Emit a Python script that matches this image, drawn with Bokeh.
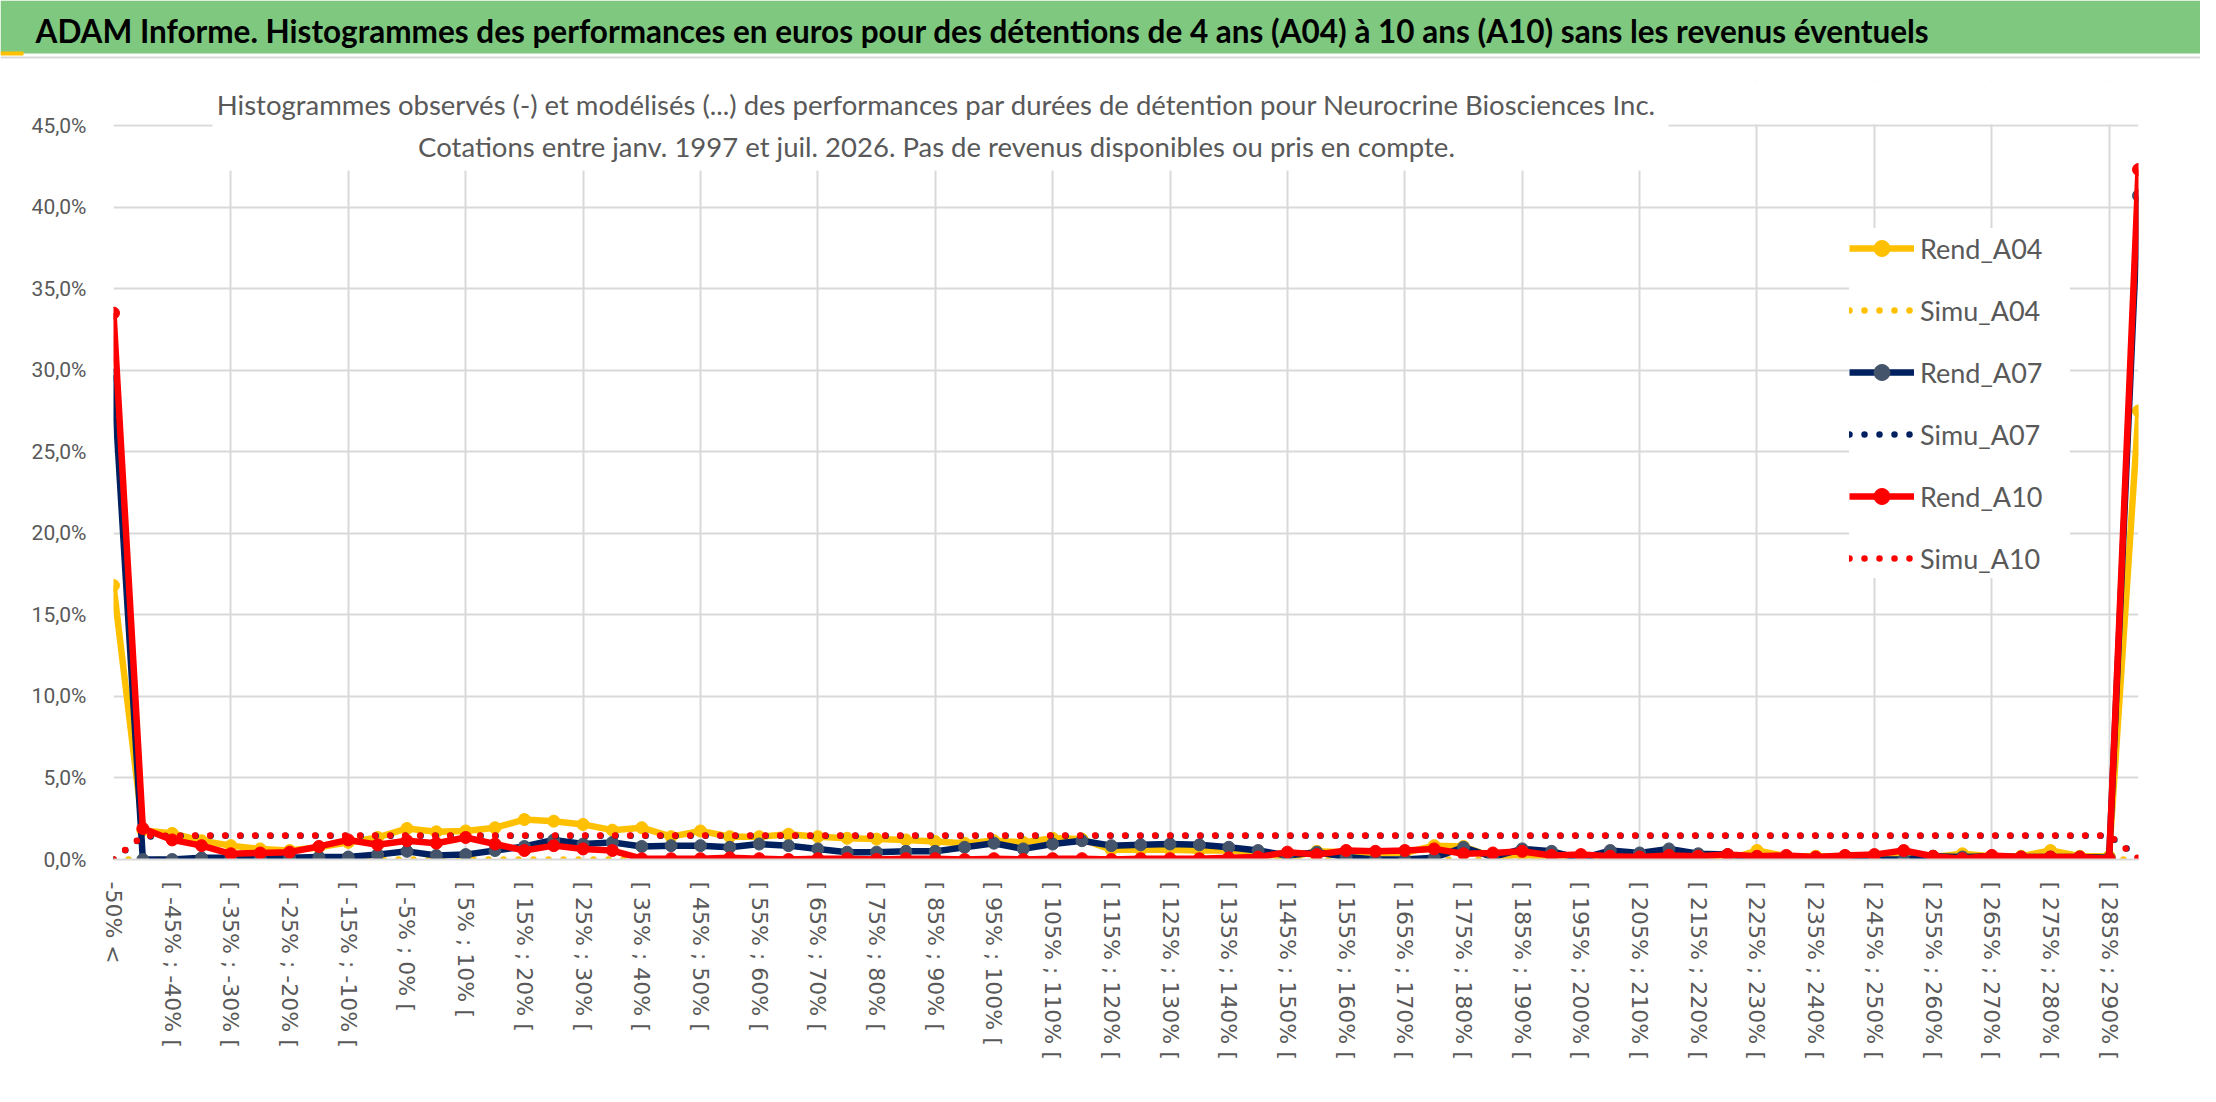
from bokeh.plotting import figure
from bokeh.models import Range1d, FixedTicker, Legend, LegendItem, Label, BoxAnnotation
from bokeh.embed import file_html
from bokeh.resources import INLINE

# ---------------- data ----------------
categories = [
    "-50% <",
    "[ -50% ; -45% [", "[ -45% ; -40% [", "[ -40% ; -35% [", "[ -35% ; -30% [",
    "[ -30% ; -25% [", "[ -25% ; -20% [", "[ -20% ; -15% [", "[ -15% ; -10% [",
    "[ -10% ; -5% [", "[ -5% ; 0% [", "[ 0% ; 5% [", "[ 5% ; 10% [",
    "[ 10% ; 15% [", "[ 15% ; 20% [", "[ 20% ; 25% [", "[ 25% ; 30% [",
    "[ 30% ; 35% [", "[ 35% ; 40% [", "[ 40% ; 45% [", "[ 45% ; 50% [",
    "[ 50% ; 55% [", "[ 55% ; 60% [", "[ 60% ; 65% [", "[ 65% ; 70% [",
    "[ 70% ; 75% [", "[ 75% ; 80% [", "[ 80% ; 85% [", "[ 85% ; 90% [",
    "[ 90% ; 95% [", "[ 95% ; 100% [", "[ 100% ; 105% [", "[ 105% ; 110% [",
    "[ 110% ; 115% [", "[ 115% ; 120% [", "[ 120% ; 125% [", "[ 125% ; 130% [",
    "[ 130% ; 135% [", "[ 135% ; 140% [", "[ 140% ; 145% [", "[ 145% ; 150% [",
    "[ 150% ; 155% [", "[ 155% ; 160% [", "[ 160% ; 165% [", "[ 165% ; 170% [",
    "[ 170% ; 175% [", "[ 175% ; 180% [", "[ 180% ; 185% [", "[ 185% ; 190% [",
    "[ 190% ; 195% [", "[ 195% ; 200% [", "[ 200% ; 205% [", "[ 205% ; 210% [",
    "[ 210% ; 215% [", "[ 215% ; 220% [", "[ 220% ; 225% [", "[ 225% ; 230% [",
    "[ 230% ; 235% [", "[ 235% ; 240% [", "[ 240% ; 245% [", "[ 245% ; 250% [",
    "[ 250% ; 255% [", "[ 255% ; 260% [", "[ 260% ; 265% [", "[ 265% ; 270% [",
    "[ 270% ; 275% [", "[ 275% ; 280% [", "[ 280% ; 285% [", "[ 285% ; 290% [",
    "> 290%",
]

rend_a04 = [
    16.8, 1.8, 1.6, 1.15, 0.85, 0.65, 0.55, 0.75, 1.05, 1.35,
    1.9, 1.7, 1.75, 1.95, 2.45, 2.35, 2.15, 1.8, 1.95, 1.4,
    1.75, 1.4, 1.4, 1.55, 1.4, 1.3, 1.25, 1.2, 1.1, 1.0,
    1.15, 1.05, 1.3, 1.25, 0.6, 0.6, 0.6, 0.55, 0.55, 0.45,
    0.1, 0.5, 0.45, 0.35, 0.4, 0.85, 0.8, 0.15, 0.3, 0.1,
    0.15, 0.05, 0.0, 0.2, 0.2, 0.0, 0.55, 0.2, 0.2, 0.2,
    0.2, 0.2, 0.15, 0.35, 0.2, 0.2, 0.55, 0.2, 0.2, 27.5,
]
simu_a04 = [
    0.0, 0.0, 0.0, 0.0, 0.0, 0.0, 0.0, 0.0, 0.0, 0.0,
    0.0, 0.0, 0.0, 0.0, 0.0, 0.0, 0.0, 0.0, 0.0, 0.0,
    0.0, 0.0, 0.0, 0.0, 0.0, 0.0, 0.0, 0.0, 0.0, 0.0,
    0.0, 0.0, 0.0, 0.0, 0.0, 0.0, 0.0, 0.0, 0.0, 0.0,
    0.0, 0.0, 0.0, 0.0, 0.0, 0.0, 0.0, 0.0, 0.0, 0.0,
    0.0, 0.0, 0.0, 0.0, 0.0, 0.0, 0.0, 0.0, 0.0, 0.0,
    0.0, 0.0, 0.0, 0.0, 0.0, 0.0, 0.0, 0.0, 0.0, 0.0,
]
rend_a07 = [
    29.7, 0.0, 0.0, 0.1, 0.1, 0.05, 0.1, 0.15, 0.15, 0.3,
    0.5, 0.25, 0.3, 0.55, 0.8, 1.2, 0.95, 1.05, 0.8, 0.85,
    0.85, 0.75, 0.95, 0.85, 0.65, 0.45, 0.45, 0.5, 0.5, 0.75,
    1.0, 0.65, 0.95, 1.15, 0.85, 0.9, 0.95, 0.9, 0.75, 0.55,
    0.25, 0.45, 0.15, 0.0, 0.0, 0.1, 0.75, 0.15, 0.65, 0.5,
    0.05, 0.55, 0.4, 0.65, 0.35, 0.3, 0.1, 0.0, 0.1, 0.15,
    0.0, 0.0, 0.2, 0.15, 0.2, 0.15, 0.15, 0.15, 0.1, 40.7,
]
simu_a07 = [
    0.0, 1.4, 1.45, 1.45, 1.45, 1.45, 1.45, 1.45, 1.45, 1.45,
    1.45, 1.45, 1.45, 1.45, 1.45, 1.45, 1.45, 1.45, 1.45, 1.45,
    1.45, 1.45, 1.45, 1.45, 1.45, 1.45, 1.45, 1.45, 1.45, 1.45,
    1.45, 1.45, 1.45, 1.45, 1.45, 1.45, 1.45, 1.45, 1.45, 1.45,
    1.45, 1.45, 1.45, 1.45, 1.45, 1.45, 1.45, 1.45, 1.45, 1.45,
    1.45, 1.45, 1.45, 1.45, 1.45, 1.45, 1.45, 1.45, 1.45, 1.45,
    1.45, 1.45, 1.45, 1.45, 1.45, 1.45, 1.45, 1.45, 1.45, 0.15,
]
rend_a10 = [
    33.5, 1.9, 1.2, 0.85, 0.35, 0.4, 0.45, 0.8, 1.2, 0.9,
    1.15, 1.0, 1.35, 0.95, 0.55, 0.85, 0.65, 0.55, 0.05, 0.05,
    0.05, 0.1, 0.05, 0.0, 0.05, 0.05, 0.0, 0.05, 0.05, 0.0,
    0.05, 0.0, 0.05, 0.05, 0.0, 0.05, 0.05, 0.05, 0.1, 0.15,
    0.45, 0.3, 0.55, 0.5, 0.55, 0.65, 0.35, 0.4, 0.5, 0.25,
    0.3, 0.2, 0.15, 0.25, 0.2, 0.3, 0.2, 0.25, 0.15, 0.25,
    0.3, 0.55, 0.2, 0.05, 0.25, 0.15, 0.15, 0.15, 0.05, 42.3,
]
simu_a10 = [
    0.0, 1.45, 1.45, 1.47, 1.47, 1.47, 1.47, 1.47, 1.47, 1.47,
    1.47, 1.47, 1.47, 1.47, 1.47, 1.47, 1.47, 1.47, 1.47, 1.47,
    1.47, 1.47, 1.47, 1.47, 1.47, 1.47, 1.47, 1.47, 1.47, 1.47,
    1.47, 1.47, 1.47, 1.47, 1.47, 1.47, 1.47, 1.47, 1.47, 1.47,
    1.47, 1.47, 1.47, 1.47, 1.47, 1.47, 1.47, 1.47, 1.47, 1.47,
    1.47, 1.47, 1.47, 1.47, 1.47, 1.47, 1.47, 1.47, 1.47, 1.47,
    1.47, 1.47, 1.47, 1.47, 1.47, 1.47, 1.47, 1.47, 1.47, 0.05,
]

y_ticks = [0, 5, 10, 15, 20, 25, 30, 35, 40, 45]
y_tick_labels = ["0,0%", "5,0%", "10,0%", "15,0%", "20,0%", "25,0%",
                 "30,0%", "35,0%", "40,0%", "45,0%"]

TITLE = ("ADAM Informe. Histogrammes des performances en euros pour des détentions "
         "de 4 ans (A04) à 10 ans (A10) sans les revenus éventuels")
SUB1 = ("Histogrammes observés (-) et modélisés (...) des performances par durées "
        "de détention pour Neurocrine Biosciences Inc.")
SUB2 = "Cotations entre janv. 1997 et juil. 2026. Pas de revenus disponibles ou pris en compte."

# ---------------- style ----------------
FONT = "Lato"
GRAY = "#595959"
GRID = "#D9D9D9"
GREEN = "#7EC880"
YEL = "#FFC000"
NAVY = "#002060"
NAVY_MK = "#44546A"
RED = "#FF0000"

W = 2200
TITLE_H = 59
MAIN_H = 1027
Y_TOP = 47.76   # frame extends a little above 45 % to host the chart title

# ---------------- title bar ----------------
tf = figure(width=W, height=TITLE_H, x_range=Range1d(0, 1), y_range=Range1d(0, 1),
            toolbar_location=None, output_backend="svg", min_border=0,
            x_axis_location=None, y_axis_location=None,
            background_fill_color="white", border_fill_color="white",
            outline_line_color=None)
tf.grid.visible = False
tf.add_layout(BoxAnnotation(bottom=6, bottom_units="screen", fill_color=GREEN,
                            fill_alpha=1.0, line_color=None))
tf.add_layout(BoxAnnotation(bottom=1, top=3, bottom_units="screen", top_units="screen",
                            fill_color=GRID, fill_alpha=1.0, line_color=None))
tf.add_layout(BoxAnnotation(left=0, right=23, bottom=4, top=8,
                            left_units="screen", right_units="screen",
                            bottom_units="screen", top_units="screen",
                            fill_color=YEL, fill_alpha=1.0, line_color=None))
tf.add_layout(Label(x=35, y=29, x_units="screen", y_units="screen", text=TITLE,
                    text_font=FONT, text_font_size="31.5px", text_font_style="bold",
                    text_color="black", text_baseline="middle"))

# ---------------- main chart ----------------
x = list(range(len(categories)))
n = len(categories)

p = figure(width=W, height=MAIN_H, x_range=Range1d(0, n - 1), y_range=Range1d(0, Y_TOP),
           toolbar_location=None, output_backend="svg",
           min_border_left=113, min_border_right=62, min_border_top=21,
           min_border_bottom=227, outline_line_color=None,
           background_fill_color="white", border_fill_color="white")

p.xaxis.ticker = FixedTicker(ticks=list(range(0, n - 1, 2)))
p.xaxis.major_label_overrides = {i: categories[i] for i in range(0, n - 1, 2)}
p.xaxis.major_label_orientation = "vertical"
p.xaxis.major_label_text_font = "DejaVu Sans"
p.xaxis.major_label_text_font_size = "22px"
p.xaxis.major_label_text_color = GRAY
p.xaxis.major_label_standoff = 16
p.xaxis.major_tick_line_color = None
p.xaxis.minor_tick_line_color = None
p.xaxis.axis_line_color = GRID
p.xaxis.axis_line_width = 2

p.yaxis.ticker = FixedTicker(ticks=y_ticks)
p.yaxis.major_label_overrides = dict(zip(y_ticks, y_tick_labels))
p.yaxis.major_label_text_font = "Roboto"
p.yaxis.major_label_text_font_size = "21px"
p.yaxis.major_label_text_color = GRAY
p.yaxis.major_label_standoff = 21
p.yaxis.major_tick_line_color = None
p.yaxis.minor_tick_line_color = None
p.yaxis.axis_line_color = None

p.xgrid.ticker = FixedTicker(ticks=list(range(0, n - 1, 4)))
p.xgrid.grid_line_color = GRID
p.xgrid.grid_line_width = 2
p.ygrid.grid_line_color = GRID
p.ygrid.grid_line_width = 2

# plot area ends at 45 %: hide the grid above it
p.add_layout(BoxAnnotation(bottom=45.08, fill_color="white", fill_alpha=1.0,
                           line_color=None))
# white background behind the chart title (hides gridlines like Excel)
p.add_layout(BoxAnnotation(left=99, right=1555, bottom=42.24,
                           left_units="screen", right_units="screen",
                           fill_color="white", fill_alpha=1.0, line_color=None))
p.add_layout(Label(x=823, y=755, x_units="screen", y_units="screen", text=SUB1,
                   text_font=FONT, text_font_size="27.5px", text_color=GRAY,
                   text_align="center", text_baseline="middle"))
p.add_layout(Label(x=823, y=713, x_units="screen", y_units="screen", text=SUB2,
                   text_font=FONT, text_font_size="27.5px", text_color=GRAY,
                   text_align="center", text_baseline="middle"))

LW = 6.5
MS = 12
DOT = "0 15"

r04 = p.line(x, rend_a04, line_color=YEL, line_width=LW, line_join="round")
m04 = p.scatter(x, rend_a04, size=MS, fill_color=YEL, line_color=YEL)
s04 = p.line(x, simu_a04, line_color=YEL, line_width=LW, line_dash=DOT, line_cap="round")
r07 = p.line(x, rend_a07, line_color=NAVY, line_width=LW, line_join="round")
m07 = p.scatter(x, rend_a07, size=MS, fill_color=NAVY_MK, line_color=NAVY_MK)
s07 = p.line(x, simu_a07, line_color=NAVY, line_width=LW, line_dash=DOT, line_cap="round")
r10 = p.line(x, rend_a10, line_color=RED, line_width=LW, line_join="round")
m10 = p.scatter(x, rend_a10, size=MS, fill_color=RED, line_color=RED)
s10 = p.line(x, simu_a10, line_color=RED, line_width=LW, line_dash=DOT, line_cap="round")

legend = Legend(items=[
    LegendItem(label="Rend_A04", renderers=[r04, m04]),
    LegendItem(label="Simu_A04", renderers=[s04]),
    LegendItem(label="Rend_A07", renderers=[r07, m07]),
    LegendItem(label="Simu_A07", renderers=[s07]),
    LegendItem(label="Rend_A10", renderers=[r10, m10]),
    LegendItem(label="Simu_A10", renderers=[s10]),
], location=(1736, 281), glyph_width=65, glyph_height=40, spacing=22, padding=20,
   margin=0, label_standoff=6, label_width=150, label_text_font=FONT,
   label_text_font_size="27px", label_text_color=GRAY, border_line_color=None,
   background_fill_color="white", background_fill_alpha=1.0)
p.add_layout(legend)

open("out.html", "w", encoding="utf-8").write(file_html([tf, p], INLINE))
